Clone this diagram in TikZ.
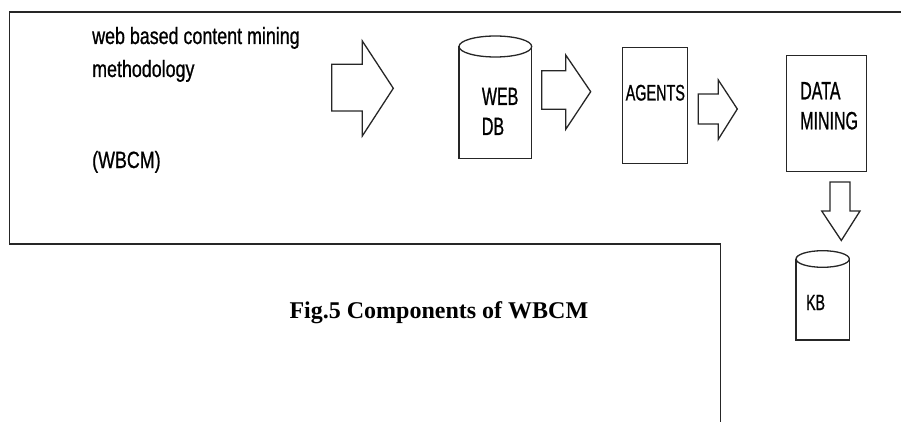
\documentclass[tikz,border=0pt]{standalone}
\usepackage{fontspec}
\setmainfont{Liberation Serif}
\newfontfamily\labelfont[FakeStretch=0.76,FakeBold=0.8]{Liberation Sans}
\newfontfamily\boxfont[FakeStretch=0.64,FakeBold=0.8]{Liberation Sans}
\begin{document}
\begin{tikzpicture}[x=1pt,y=-1pt,
  frame/.style={line width=1.5pt,draw=black!85},
  outline/.style={line width=1.3pt,draw=black!85,line join=miter},
  txt/.style={inner sep=0pt,anchor=base west},
  lefttext/.style={txt,font=\labelfont\fontsize{23.5}{33}\selectfont},
  boxtext/.style={txt,font=\boxfont\fontsize{25}{30}\selectfont}]
\useasboundingbox (0,0) rectangle (901,422);

% outer frame of the figure
\draw[frame] (901,12) -- (9.5,12) -- (9.5,244) -- (720.5,244) -- (720.5,422);

% title text
\node[lefttext] (title1) at (92,44) {web based content mining};
\node[lefttext] (title2) at (92,77) {methodology};
\node[lefttext] (abbr) at (92,168) {(WBCM)};

% big block arrow
\draw[outline] (331.7,64.3) -- (362.3,64.3) -- (362.3,41) -- (393.3,88.3)
  -- (362.3,136) -- (362.3,111) -- (331.7,111) -- cycle;

% WEB DB cylinder
\draw[outline] (459,46.5) -- (459,158.3) -- (531.7,158.3) -- (531.7,46.5);
\draw[outline] (495.35,46.5) ellipse [x radius=36.35, y radius=10.5];
\node[boxtext] (web) at (481.7,105) {WEB};
\node[boxtext] (db) at (481.7,135) {DB};

% arrow WEB DB -> AGENTS
\draw[outline] (541.7,70.7) -- (565.7,70.7) -- (565.7,55) -- (590.7,91.7)
  -- (565.7,129.3) -- (565.7,109.3) -- (541.7,109.3) -- cycle;

% AGENTS box
\node[outline,draw,minimum width=65pt,minimum height=116pt,inner sep=0pt,anchor=north west]
  (agents) at (621.7,46.7) {};
\node[txt,font=\boxfont\fontsize{22.5}{30}\selectfont] (agentslbl) at (625.5,100.5) {AGENTS};

% arrow AGENTS -> DATA MINING
\draw[outline] (698.3,94) -- (718.3,94) -- (718.3,80) -- (737.3,109)
  -- (718.3,139.3) -- (718.3,124) -- (698.3,124) -- cycle;

% DATA MINING box
\node[outline,draw,minimum width=80pt,minimum height=115.7pt,inner sep=0pt,anchor=north west]
  (dm) at (785.7,55) {};
\node[boxtext] (dmlbl1) at (800,99.3) {DATA};
\node[boxtext] (dmlbl2) at (800,129.3) {MINING};

% downward arrow DATA MINING -> KB
\draw[outline] (830,182) -- (850,182) -- (850,211) -- (860,211) -- (841.3,240.5)
  -- (821.7,211) -- (830,211) -- cycle;

% KB cylinder
\draw[outline] (796,259) -- (796,340) -- (849.3,340) -- (849.3,259);
\draw[outline] (822.65,259) ellipse [x radius=26.65, y radius=8.3];
\node[txt,font=\boxfont\fontsize{22}{26}\selectfont] (kb) at (806,310) {KB};

% caption
\node[txt,font=\bfseries\fontsize{24}{28}\selectfont] (caption) at (289.3,318.3)
  {Fig.5 Components of WBCM};
\end{tikzpicture}
\end{document}
